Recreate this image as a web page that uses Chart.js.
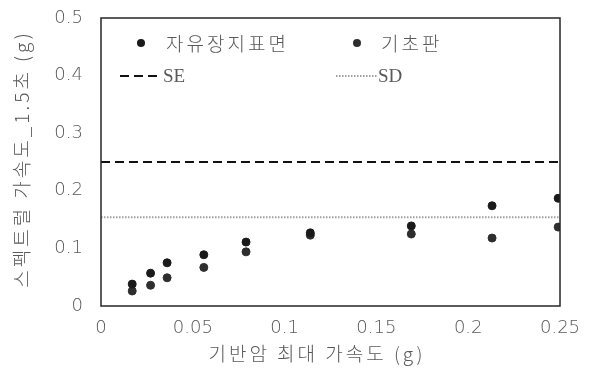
<!DOCTYPE html>
<html>
<head>
<meta charset="utf-8">
<script src="https://cdn.jsdelivr.net/npm/chart.js@4"></script>
<style>
html,body{margin:0;padding:0;background:#fff;}
#wrap{width:590px;height:370px;}
</style>
</head>
<body>
<div id="wrap"><canvas id="c" width="590" height="370"></canvas></div>
<script>
// ---- data ----
const pgaValues = [0.017, 0.027, 0.036, 0.056, 0.079, 0.114, 0.169, 0.213, 0.249];
const freeFieldValues = [0.038, 0.057, 0.075, 0.089, 0.111, 0.127, 0.139, 0.174, 0.187];
const foundationValues = [0.026, 0.036, 0.049, 0.067, 0.094, 0.123, 0.125, 0.118, 0.137];
const seValue = 0.25;
const sdValue = 0.154;
const xRange = [0, 0.25];
const yRange = [0, 0.5];
const seriesLabels = ['자유장지표면', '기초판', 'SE', 'SD'];
const xTitle = '기반암 최대 가속도 (g)';
const yTitle = '스펙트럴 가속도_1.5초 (g)';

const FONT = '"Noto Sans CJK KR", "Noto Sans", sans-serif';
const NUMFONT = '"DejaVu Sans", sans-serif';
const TXT = '#595959';

const toPts = (xs, ys) => xs.map((x, i) => ({x: x, y: ys[i]}));

const boxPlugin = {
  id: 'box',
  afterDraw(chart) {
    const a = chart.chartArea, ctx = chart.ctx;
    ctx.save();
    ctx.strokeStyle = '#262626';
    ctx.lineWidth = 1.5;
    ctx.strokeRect(a.left, a.top, a.right - a.left, a.bottom - a.top);
    ctx.restore();
  }
};

const legendPlugin = {
  id: 'customLegend',
  afterDraw(chart) {
    const a = chart.chartArea, ctx = chart.ctx;
    const ds = chart.data.datasets;
    ctx.save();
    ctx.font = '300 19px ' + FONT;
    ctx.letterSpacing = '3px';
    ctx.fillStyle = TXT;
    ctx.textBaseline = 'middle';
    ctx.textAlign = 'left';
    const items = [
      {ds: ds[0], mx: a.left + 40, tx: a.left + 65, y: a.top + 25},
      {ds: ds[1], mx: a.left + 256, tx: a.left + 280, y: a.top + 25}
    ];
    items.forEach(it => {
      ctx.beginPath();
      ctx.fillStyle = it.ds.backgroundColor;
      ctx.arc(it.mx, it.y, 4, 0, Math.PI * 2);
      ctx.fill();
      ctx.fillStyle = TXT;
      ctx.fillText(it.ds.label, it.tx, it.y + 1);
    });
    ctx.letterSpacing = '0px';
    ctx.font = '19px "Liberation Serif", serif';
    const lines = [
      {ds: ds[2], x0: a.left + 19, x1: a.left + 61, y: a.top + 58},
      {ds: ds[3], x0: a.left + 235, x1: a.left + 276, y: a.top + 58}
    ];
    lines.forEach(it => {
      ctx.beginPath();
      ctx.strokeStyle = it.ds.borderColor;
      ctx.lineWidth = it.ds.borderWidth;
      ctx.setLineDash(it.ds.borderDash);
      ctx.moveTo(it.x0, it.y);
      ctx.lineTo(it.x1, it.y);
      ctx.stroke();
      ctx.setLineDash([]);
      ctx.fillStyle = TXT;
      ctx.fillText(it.ds.label, it.x1 + 1, it.y + 1);
    });
    ctx.restore();
  }
};

const titlePlugin = {
  id: 'axisTitles',
  afterDraw(chart) {
    const a = chart.chartArea, ctx = chart.ctx;
    ctx.save();
    ctx.font = '300 19px ' + FONT;
    ctx.letterSpacing = '3px';
    ctx.fillStyle = TXT;
    ctx.textAlign = 'center';
    ctx.textBaseline = 'middle';
    ctx.fillText(xTitle, a.left + 216, a.bottom + 48);
    ctx.translate(22, a.top + 141);
    ctx.rotate(-Math.PI / 2);
    ctx.fillText(yTitle, 0, 0);
    ctx.restore();
  }
};

new Chart(document.getElementById('c'), {
  type: 'scatter',
  data: {
    datasets: [
      {label: seriesLabels[0], data: toPts(pgaValues, freeFieldValues),
       backgroundColor: '#1a1a1a', borderColor: '#1a1a1a', pointRadius: 4, pointHoverRadius: 4, order: 1},
      {label: seriesLabels[1], data: toPts(pgaValues, foundationValues),
       backgroundColor: '#2e2e2e', borderColor: '#2e2e2e', pointRadius: 4, pointHoverRadius: 4, order: 1},
      {type: 'line', label: seriesLabels[2],
       data: [{x: xRange[0], y: seValue}, {x: xRange[1], y: seValue}],
       borderColor: '#111', borderWidth: 2, borderDash: [9, 5], pointRadius: 0, fill: false, order: 2},
      {type: 'line', label: seriesLabels[3],
       data: [{x: xRange[0], y: sdValue}, {x: xRange[1], y: sdValue}],
       borderColor: '#a0a0a0', borderWidth: 2, borderDash: [1.5, 1.5], pointRadius: 0, fill: false, order: 2}
    ]
  },
  options: {
    responsive: false,
    animation: false,
    layout: {padding: {left: 0, top: 18, right: 30, bottom: 0}},
    plugins: {legend: {display: false}, tooltip: {enabled: false}},
    scales: {
      x: {
        type: 'linear', min: xRange[0], max: xRange[1],
        grid: {display: false, drawTicks: false},
        border: {display: false},
        ticks: {stepSize: 0.05, color: TXT, font: {family: NUMFONT, size: 18, weight: 200}, padding: 12,
                callback: v => String(Math.round(v * 100) / 100)},
        afterFit: s => { s.height = 64; s.paddingLeft = 0; s.paddingRight = 0; }
      },
      y: {
        type: 'linear', min: yRange[0], max: yRange[1],
        grid: {display: false, drawTicks: false},
        border: {display: false},
        ticks: {stepSize: 0.1, color: TXT, font: {family: NUMFONT, size: 18, weight: 200}, padding: 18,
                callback: v => String(Math.round(v * 10) / 10)},
        afterFit: s => { s.width = 101; s.paddingTop = 0; s.paddingBottom = 0; }
      }
    }
  },
  plugins: [boxPlugin, legendPlugin, titlePlugin]
});
</script>
</body>
</html>
